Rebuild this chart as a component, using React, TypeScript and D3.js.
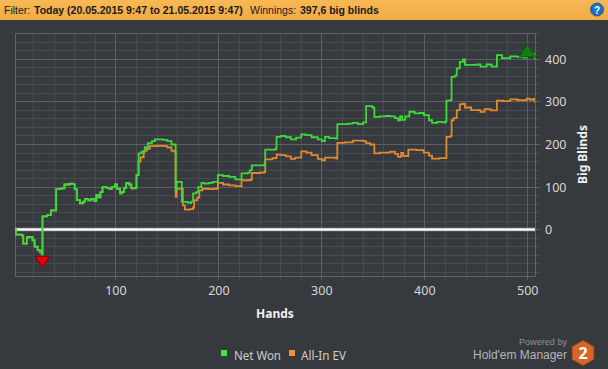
import React from "react";
import * as d3 from "d3";

// ---- Data ----
const netWonHands = [2,3,9,10,13,13.5,16,19,21,24,26,28,28.7,32,33,37,42,47,50,55,58,60,62,65,68,70,73,76,79,81,83,85,87,91,94,96,99,101,104,106,108,110,113,115,118,120,122,125,128,131,135,138,146,150,154,157,158,159,163,164,170,173,175,178,180,183,186,190,194,199,204,210,216,222,228,230,232,240,244,245,250,255,256,260,265,270,275,280,284,290,296,300,303,307,312,314,315,320,326,330,335,340,343,349,351,356,362,366,371,374,376,378,381,385,390,395,399,404,407,412,417,420,421,425,426,429,431,434,437,439,445,450,454,460,465,468,470,475,483,490,496,499,502,505,507];
const netWonValues = [0,-12,-14,-33,-33,-18,-17,-25,-40,-48,-52,-58,31,31,34,45,95,97,106,108,107,95,70,62,66,72,69,72,67,81,76,88,100,98,95,100,106,96,85,88,98,110,106,97,98,128,179,183,194,203,208,212,211,208,200,200,92,112,112,65,63,66,85,88,100,110,108,110,112,128,126,124,118,132,134,140,151,151,153,188,188,190,218,220,217,212,216,224,222,217,212,208,218,215,215,214,248,248,249,251,248,252,290,287,265,266,267,266,262,257,266,258,266,277,273,274,269,257,251,253,252,254,303,305,359,362,379,394,400,387,387,388,383,388,383,383,410,403,407,406,404,412,408,413,400];

const allInHands = [2,3,9,10,13,13.5,16,19,21,24,26,28,28.7,32,33,37,42,47,50,55,58,60,62,65,68,70,73,76,79,81,83,85,87,91,94,96,99,101,104,106,108,110,113,115,118,120,122,124,127,130,133,140,146,150,154,157,158,159,164,165,167,172,175,176,179,181,184,190,195,199,204,210,216,222,231,232,240,244,245,252,256,260,265,270,274,280,285,290,296,300,303,309,314,315,322,330,340,343,347,351,356,366,371,374,377,379,384,392,399,404,407,414,420,421,425,426,428,431,434,437,439,445,450,454,458,464,468,470,476,483,490,499,502,505,507];
const allInValues = [0,-12,-14,-33,-33,-18,-17,-25,-40,-48,-52,-58,31,31,34,45,95,97,106,108,107,95,70,62,66,72,69,72,67,81,76,88,100,98,95,100,106,96,85,88,98,110,106,97,98,128,160,170,185,190,196,197,196,193,185,183,77,96,96,57,47,48,52,69,75,92,96,95,96,110,106,104,102,116,118,133,134,135,165,168,176,175,172,166,169,184,181,175,166,163,169,169,167,204,205,209,208,203,200,179,181,183,178,171,180,173,188,187,181,174,167,168,168,218,220,257,262,281,295,296,287,281,281,277,283,280,280,303,302,306,304,308,305,307,298];

const xTicks = [100, 200, 300, 400, 500];
const yTicks = [0, 100, 200, 300, 400];
const seriesNames = ["Net Won", "All-In EV"];
const minPoint = { hand: 28.7, value: -58 };
const maxPoint = { hand: 499.5, value: 412 };

const W = 608, H = 369;
const L = 15, R = 535, T = 33, B = 276;

export default function App() {
  const x = d3.scaleLinear().domain([2, 507]).range([L, R]);
  const y = d3.scaleLinear().domain([-109, 462]).range([B, T]);

  const line = d3.line<[number, number]>()
    .x(d => x(d[0])).y(d => y(d[1])).curve(d3.curveStepAfter);
  const green: [number, number][] = netWonHands.map((h, i) => [h, netWonValues[i]]);
  const orange: [number, number][] = allInHands.map((h, i) => [h, allInValues[i]]);

  const minorX = d3.range(20, 507, 20);
  const minorY = d3.range(-100, 462, 20);

  const font = "'Noto Sans', 'Open Sans', sans-serif";
  const smallFont = "'Liberation Sans', Arial, sans-serif";

  const mx = x(minPoint.hand), my = y(minPoint.value);
  const Mx = x(maxPoint.hand), My = y(maxPoint.value);

  const hexC = [583, 353], hexR = 12.5;
  const hex = d3.range(6).map(i => {
    const a = Math.PI / 3 * i + Math.PI / 6;
    return [hexC[0] + hexR * Math.cos(a), hexC[1] + hexR * Math.sin(a)].join(",");
  }).join(" ");

  return (
    <svg width={W} height={H} style={{ position: "absolute", left: 0, top: 0, display: "block" }} fontFamily={font}>
      <rect width={W} height={H} fill="#36393d" />
      <defs>
        <linearGradient id="tb" x1="0" y1="0" x2="0" y2="1">
          <stop offset="0" stopColor="#f7b955" />
          <stop offset="1" stopColor="#f1aa45" />
        </linearGradient>
        <clipPath id="clip"><rect x={L} y={T} width={R - L} height={B - T} /></clipPath>
      </defs>
      <rect width={W} height={20} fill="url(#tb)" />
      <g fontSize={10.5} fill="#1a1a1a" fontFamily={smallFont}>
        <text x={4} y={14}>Filter:</text>
        <text x={34} y={14} fontWeight="bold">Today (20.05.2015 9:47 to 21.05.2015 9:47)</text>
        <text x={250} y={14}>Winnings:</text>
        <text x={300} y={14} fontWeight="bold">397,6 big blinds</text>
      </g>
      <circle cx={597} cy={9.5} r={6.5} fill="#1f6fc5" stroke="#0d4f9a" strokeWidth={0.8} />
      <text x={597} y={13.5} fontSize={10} fontWeight="bold" fill="#fff" textAnchor="middle" fontFamily={smallFont}>?</text>

      <g shapeRendering="crispEdges">
        {minorX.map(v => (
          <line key={"mx" + v} x1={x(v)} x2={x(v)} y1={T} y2={B + 4} stroke="#474a4e" strokeWidth={1} />
        ))}
        {minorY.map(v => (
          <line key={"my" + v} x1={L} x2={R + 5} y1={y(v)} y2={y(v)} stroke="#474a4e" strokeWidth={1} />
        ))}
        {xTicks.map(v => (
          <line key={"Mx" + v} x1={x(v)} x2={x(v)} y1={T} y2={B + 4} stroke="#5c5f63" strokeWidth={1} />
        ))}
        {yTicks.map(v => (
          <line key={"My" + v} x1={L} x2={R + 5} y1={y(v)} y2={y(v)} stroke="#5c5f63" strokeWidth={1} />
        ))}
        <rect x={L} y={T} width={R - L} height={B - T} fill="none" stroke="#606367" strokeWidth={1} />
      </g>

      <line x1={L} x2={R} y1={y(0)} y2={y(0)} stroke="#9a9a9a" strokeWidth={3.5} />
      <line x1={L} x2={R} y1={y(0)} y2={y(0)} stroke="#ffffff" strokeWidth={2} />

      <g clipPath="url(#clip)" fill="none" strokeWidth={1.8} strokeLinejoin="miter">
        <path d={line(orange) || ""} stroke="#e0892f" />
        <path d={line(green) || ""} stroke="#3ada3a" />
      </g>

      <path d={`M${mx - 7},${my + 2} L${mx + 7},${my + 2} L${mx},${my + 13} Z`} fill="#ee0000" stroke="#8a0000" strokeWidth={1} />
      <path d={`M${Mx - 8},${My + 2.5} L${Mx + 8},${My + 2.5} L${Mx},${My - 10} Z`} fill="#0f7f12" stroke="#075a08" strokeWidth={1} />

      <g fontSize={12.5} fill="#d8d8d8">
        {xTicks.map(v => (
          <text key={"xt" + v} x={x(v)} y={294.5} textAnchor="middle">{v}</text>
        ))}
        {yTicks.map(v => (
          <text key={"yt" + v} x={545} y={y(v) + 4.5}>{v}</text>
        ))}
      </g>
      <text x={(L + R) / 2} y={318} textAnchor="middle" fontSize={12} fontWeight="bold" fill="#f0f0f0">Hands</text>
      <text transform={`translate(587,${(T + B) / 2}) rotate(-90)`} textAnchor="middle" fontSize={12} fontWeight="bold" fill="#f0f0f0">Big Blinds</text>

      <rect x={221} y={350} width={6} height={6} fill="#33ee33" />
      <text x={234} y={360} fontSize={12.5} fill="#cfcfcf" textLength={47} lengthAdjust="spacingAndGlyphs">{seriesNames[0]}</text>
      <rect x={289} y={350} width={6} height={6} fill="#f0913a" />
      <text x={301} y={360} fontSize={12.5} fill="#cfcfcf" textLength={45} lengthAdjust="spacingAndGlyphs">{seriesNames[1]}</text>

      <text x={519} y={345} fontSize={9} fill="#8e9094" fontFamily={smallFont} textLength={48} lengthAdjust="spacingAndGlyphs">Powered by</text>
      <text x={473} y={358.5} fontSize={12} fill="#b4b6b8" fontFamily={smallFont} textLength={94} lengthAdjust="spacingAndGlyphs">Hold'em Manager</text>
      <polygon points={hex} fill="#d8652a" stroke="#a74a1a" strokeWidth={1} />
      <text x={583} y={359} fontSize={16} fontWeight="bold" fill="#ffffff" textAnchor="middle">2</text>
    </svg>
  );
}
